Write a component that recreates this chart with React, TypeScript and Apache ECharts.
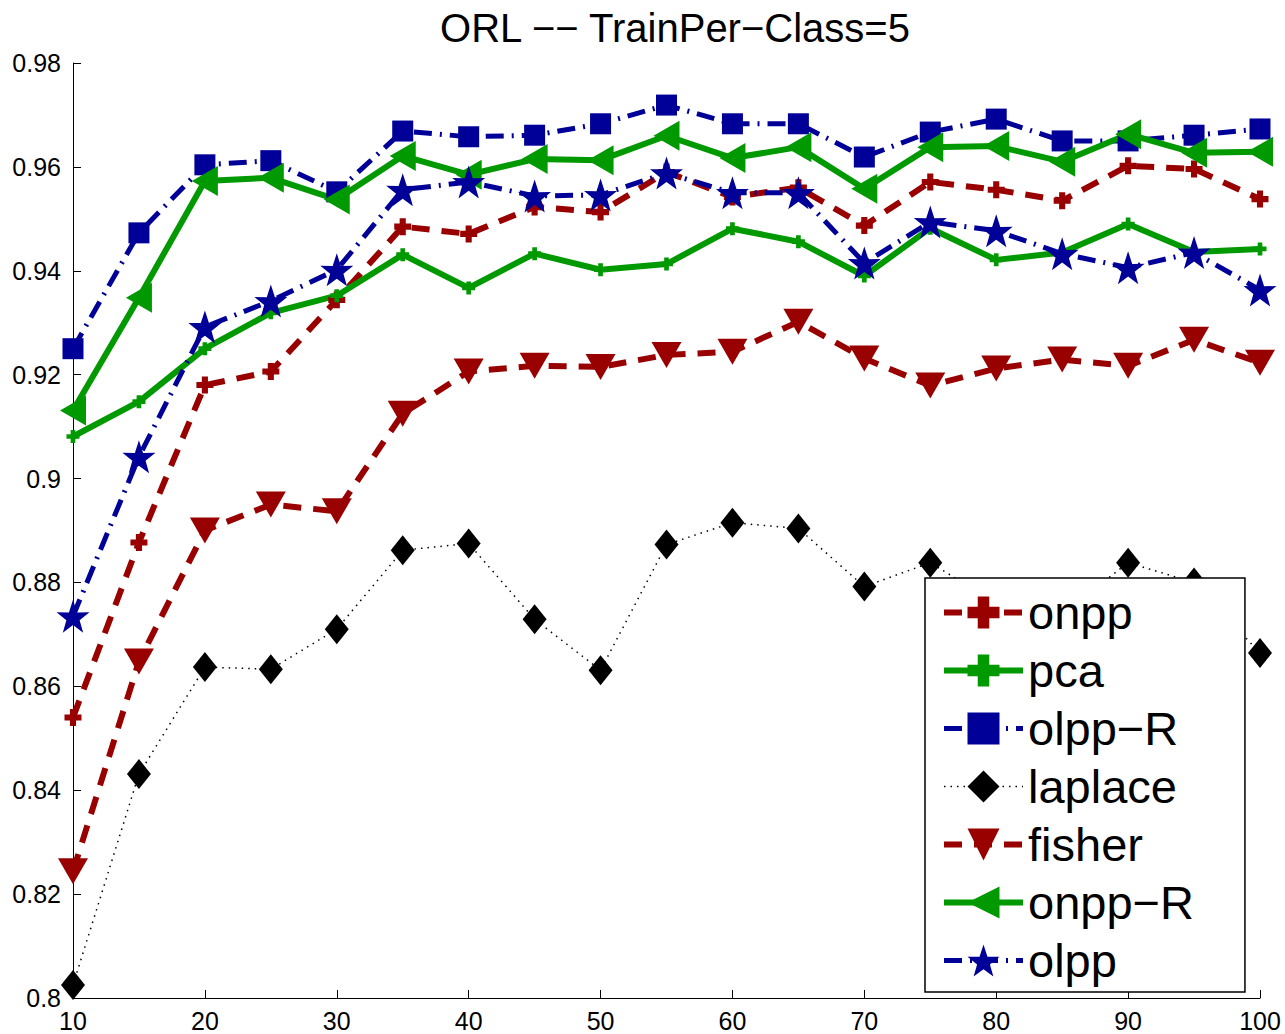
import React, { useEffect, useRef } from "react";
import * as echarts from "echarts";

const xValues = [10, 15, 20, 25, 30, 35, 40, 45, 50, 55, 60, 65, 70, 75, 80, 85, 90, 95, 100];

const onpp = [0.854, 0.8877, 0.918, 0.9206, 0.9344, 0.9485, 0.9471, 0.9523, 0.9513, 0.959, 0.9542, 0.956, 0.9487, 0.9571, 0.9556, 0.9535, 0.9602, 0.9596, 0.9538];
const pca = [0.9081, 0.9148, 0.925, 0.9319, 0.9352, 0.9431, 0.9367, 0.9433, 0.9402, 0.9413, 0.9481, 0.9456, 0.939, 0.9482, 0.9421, 0.9435, 0.949, 0.9436, 0.9442];
const olppR = [0.925, 0.9473, 0.9604, 0.9612, 0.9552, 0.9669, 0.9658, 0.9661, 0.9683, 0.9719, 0.9683, 0.9683, 0.9619, 0.9667, 0.9692, 0.965, 0.965, 0.9661, 0.9673];
const laplace = [0.8025, 0.8431, 0.8637, 0.8633, 0.871, 0.8862, 0.8875, 0.8729, 0.8631, 0.8873, 0.8915, 0.8904, 0.8792, 0.8838, 0.876, 0.874, 0.8838, 0.88, 0.8664];
const fisher = [0.8244, 0.8648, 0.89, 0.895, 0.8937, 0.9125, 0.9206, 0.9217, 0.9215, 0.9238, 0.9244, 0.9302, 0.9231, 0.9179, 0.9212, 0.9229, 0.9217, 0.9267, 0.9223];
const onppR = [0.9131, 0.9348, 0.9573, 0.9579, 0.9537, 0.9621, 0.9585, 0.9615, 0.9613, 0.966, 0.9617, 0.9638, 0.9558, 0.9638, 0.964, 0.961, 0.9663, 0.9627, 0.9629];
const olpp = [0.8735, 0.9042, 0.9292, 0.9342, 0.9402, 0.9556, 0.9571, 0.9544, 0.9546, 0.9588, 0.955, 0.955, 0.9415, 0.9494, 0.9477, 0.9433, 0.9406, 0.9435, 0.9363];

const seriesNames = ["onpp", "pca", "olpp\u2212R", "laplace", "fisher", "onpp\u2212R", "olpp"];
const titleText = "ORL \u2212\u2212 TrainPer\u2212Class=5";

const RED = "#990000";
const GREEN = "#009900";
const BLUE = "#000099";
const BLACK = "#000000";

const PLUS = "path://M3.2,0 H6.8 V3.2 H10 V6.8 H6.8 V10 H3.2 V6.8 H0 V3.2 H3.2 Z";
const STAR = "path://M50,0 L61.8,35.1 L97.6,34.5 L69.1,56.7 L79.4,90.9 L50,70 L20.6,90.9 L30.9,56.7 L2.4,34.5 L38.2,35.1 Z";
const TRI_DOWN = "path://M0,0 L10,0 L5,9 Z";
const TRI_LEFT = "path://M0,5 L9,0 L9,10 Z";
const FONT = "'Liberation Sans', Arial, Helvetica, sans-serif";

const lineWidths = [6, 6, 5, 1.5, 6, 6, 5];

function pairs(ys: number[]) {
  return xValues.map((x, i) => [x, ys[i]]);
}

export default function App() {
  const ref = useRef<HTMLDivElement>(null);
  useEffect(() => {
    if (!ref.current) return;
    const chart = echarts.init(ref.current, null, { renderer: "svg" });
    const mk = (
      name: string,
      data: number[],
      color: string,
      width: number,
      dash: any,
      symbol: string,
      size: any
    ) => ({
      name,
      type: "line",
      data: pairs(data),
      clip: false,
      symbol,
      symbolSize: size,
      showAllSymbol: true,
      lineStyle: { color, width, type: dash },
      itemStyle: { color, borderWidth: 0 },
      emphasis: { disabled: true },
    });
    chart.setOption({
      animation: false,
      backgroundColor: "#ffffff",
      title: {
        text: titleText,
        left: 670,
        textAlign: "center",
        top: 3,
        textStyle: { fontFamily: FONT, fontSize: 40, fontWeight: "normal", color: "#000" },
      },
      grid: { left: 73, right: 25, top: 63, bottom: 36, containLabel: false },
      xAxis: {
        type: "value",
        min: 10,
        max: 100,
        interval: 10,
        axisLine: { show: true, lineStyle: { color: "#000", width: 1 } },
        axisTick: { show: true, inside: true, length: 8, lineStyle: { color: "#000" } },
        axisLabel: { fontFamily: FONT, fontSize: 25, color: "#000", margin: 10 },
        splitLine: { show: false },
      },
      yAxis: {
        type: "value",
        min: 0.8,
        max: 0.98,
        interval: 0.02,
        axisLine: { show: true, lineStyle: { color: "#000", width: 1 } },
        axisTick: { show: true, inside: true, length: 8, lineStyle: { color: "#000" } },
        axisLabel: { fontFamily: FONT, fontSize: 25, color: "#000", margin: 12 },
        splitLine: { show: false },
      },
      legend: {
        orient: "vertical",
        left: 925,
        top: 578,
        z: 20,
        data: seriesNames.map((n, i) => ({ name: n, lineStyle: { width: lineWidths[i] } })),
        backgroundColor: "#ffffff",
        borderColor: "#000",
        borderWidth: 1.5,
        borderRadius: 0,
        padding: [11, 51, 8, 16],
        itemWidth: 79,
        itemHeight: 40,
        itemGap: 11,
        selectedMode: false,
        textStyle: { fontFamily: FONT, fontSize: 47, color: "#000" },
      },
      series: [
        mk(seriesNames[0], onpp, RED, 6, [18, 12], PLUS, 17),
        mk(seriesNames[1], pca, GREEN, 6, "solid", PLUS, 13),
        mk(seriesNames[2], olppR, BLUE, 5, [18, 8, 2, 8], "rect", 21),
        mk(seriesNames[3], laplace, BLACK, 1.5, [1.5, 5], "diamond", [24, 30]),
        mk(seriesNames[4], fisher, RED, 6, [18, 12], TRI_DOWN, [30, 26]),
        mk(seriesNames[5], onppR, GREEN, 6, "solid", TRI_LEFT, [26, 30]),
        mk(seriesNames[6], olpp, BLUE, 5, [18, 8, 2, 8], STAR, 33),
      ],
    });
    return () => chart.dispose();
  }, []);
  return (
    <div
      ref={ref}
      style={{ position: "fixed", left: 0, top: 0, width: 1285, height: 1034, background: "#fff" }}
    />
  );
}
